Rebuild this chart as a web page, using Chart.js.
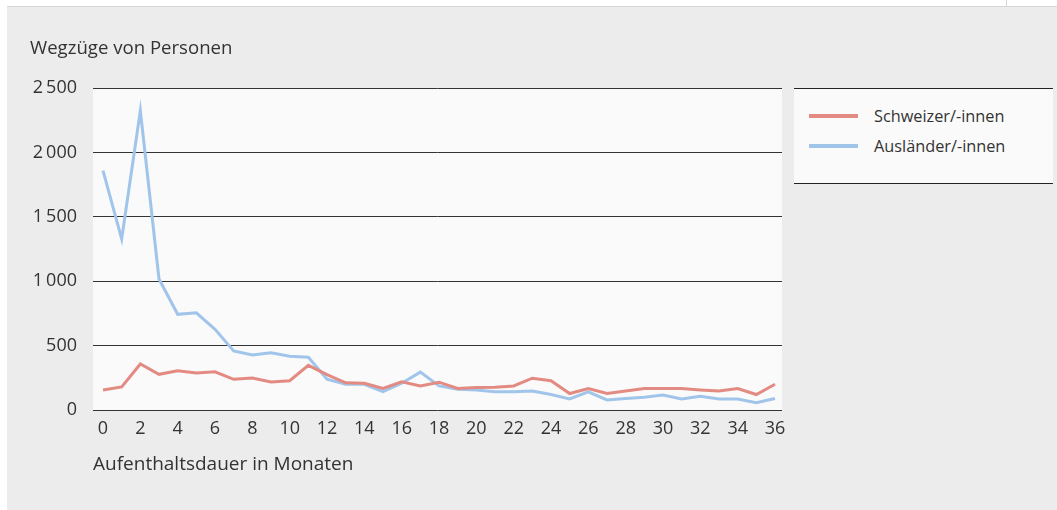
<!DOCTYPE html>
<html>
<head>
<meta charset="utf-8">
<script src="https://cdn.jsdelivr.net/npm/chart.js@4/dist/chart.umd.min.js"></script>
<style>
  body { margin: 0; background: #fff; font-family: "Open Sans", sans-serif; color: #333; }
  #wrap { position: relative; width: 1057px; height: 510px; overflow: hidden; }
  #panel { position: absolute; left: 7px; top: 6px; width: 1050px; height: 504px; background: #ececec; border-top: 1px solid #d6d6d6; }
  #tick { position: absolute; left: 1006px; top: 0; width: 1px; height: 7px; background: #d6d6d6; }
  #chart { position: absolute; left: 0; top: 0; }
  .lbl { position: absolute; white-space: nowrap; line-height: 1; }
  #ytitle { left: 30px; top: 38px; font-size: 18.6px; }
  #xtitle { left: 93px; top: 454px; font-size: 19px; }
  #legend { position: absolute; left: 794px; top: 88px; width: 259px; height: 94px; background: #fafafa; border-top: 1px solid #222; border-bottom: 1px solid #222; }
  .item { position: absolute; left: 15px; font-size: 16.3px; line-height: 20px; }
  .item span { display: inline-block; width: 49px; height: 4px; vertical-align: middle; margin-right: 16px; margin-top: -3px; }
</style>
</head>
<body>
<div id="wrap">
  <div id="panel"></div>
  <div id="tick"></div>
  <canvas id="chart" width="1057" height="510"></canvas>
  <div class="lbl" id="ytitle">Wegzüge von Personen</div>
  <div class="lbl" id="xtitle">Aufenthaltsdauer in Monaten</div>
  <div id="legend">
    <div class="item" style="top:17px"><span style="background:#e38b82"></span>Schweizer/-innen</div>
    <div class="item" style="top:47px"><span style="background:#a1c5ea"></span>Ausländer/-innen</div>
  </div>
</div>
<script>
// Aufenthaltsdauer in Monaten
const monate = [0, 1, 2, 3, 4, 5, 6, 7, 8, 9, 10, 11, 12, 13, 14, 15, 16, 17, 18,
  19, 20, 21, 22, 23, 24, 25, 26, 27, 28, 29, 30, 31, 32, 33, 34, 35, 36];
const schweizer = [155, 179, 357, 277, 305, 287, 297, 238, 248, 217, 227, 347, 275, 211, 208, 167, 219, 187, 216,
  167, 174, 177, 187, 247, 227, 128, 167, 128, 148, 167, 167, 167, 156, 148, 167, 120, 200];
const auslaender = [1858, 1328, 2324, 1017, 743, 755, 626, 458, 427, 445, 417, 409, 239, 200, 200, 143, 208, 294, 187,
  161, 156, 141, 141, 148, 120, 86, 141, 78, 89, 99, 117, 86, 107, 86, 86, 57, 89];
const xTicks = [0, 2, 4, 6, 8, 10, 12, 14, 16, 18, 20, 22, 24, 26, 28, 30, 32, 34, 36];
const yTicks = [0, 500, 1000, 1500, 2000, 2500];

const plotBg = {
  id: 'plotBg',
  beforeDraw(chart) {
    const a = chart.chartArea;
    const c = chart.ctx;
    c.save();
    c.fillStyle = '#fafafa';
    c.fillRect(a.left, a.top, a.right - a.left, a.bottom - a.top);
    c.restore();
  }
};

const ctx = document.getElementById('chart').getContext('2d');
new Chart(ctx, {
  type: 'line',
  data: {
    datasets: [{
      label: 'Schweizer/-innen',
      data: monate.map((m, i) => ({ x: m, y: schweizer[i] })),
      borderColor: '#e38b82',
      borderWidth: 3
    }, {
      label: 'Ausländer/-innen',
      data: monate.map((m, i) => ({ x: m, y: auslaender[i] })),
      borderColor: '#a1c5ea',
      borderWidth: 3
    }]
  },
  options: {
    responsive: false,
    animation: false,
    layout: { padding: { top: 88, right: 275, left: 0, bottom: 60 } },
    elements: { point: { radius: 0 }, line: { tension: 0 } },
    plugins: { legend: { display: false }, tooltip: { enabled: false } },
    scales: {
      x: {
        type: 'linear',
        min: -0.536,
        max: 36.375,
        afterBuildTicks: s => { s.ticks = xTicks.map(v => ({ value: v })); },
        afterFit: s => { s.height = 40; },
        grid: { display: false, drawTicks: false },
        border: { display: false },
        ticks: { color: '#333', font: { family: 'Open Sans', size: 18 }, padding: 8, maxRotation: 0 }
      },
      y: {
        min: 0,
        max: 2500,
        afterBuildTicks: s => { s.ticks = yTicks.map(v => ({ value: v })); },
        afterFit: s => { s.width = 93; },
        grid: { color: '#333', lineWidth: 1, drawTicks: false },
        border: { display: false },
        ticks: {
          color: '#333',
          font: { family: 'Open Sans', size: 18 },
          padding: 16,
          callback: v => v >= 1000 ? Math.floor(v / 1000) + '\u2009' + String(v % 1000).padStart(3, '0') : String(v)
        }
      }
    }
  },
  plugins: [plotBg]
});
</script>
</body>
</html>
